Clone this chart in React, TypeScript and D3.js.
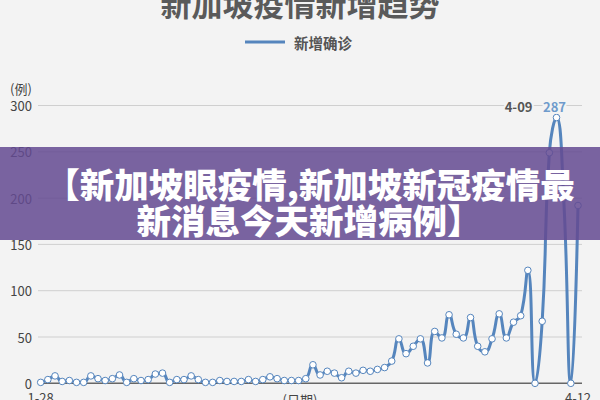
import React from "react";
import * as d3 from "d3";

const title = "新加坡疫情新增趋势";
const seriesName = "新增确诊";
const unitLabel = "(例)";
const axisName = "(日期)";
const bannerLines = ["【新加坡眼疫情,新加坡新冠疫情最", "新消息今天新增病例】"];

const dates: string[] = d3
  .timeDay.range(new Date(2020, 0, 28), new Date(2020, 3, 13))
  .map(d3.timeFormat("%-m-%d"));

const newCases = [
  1, 4, 8, 2, 3, 1, 1, 8, 5, 3, 5, 9, 1, 5, 3, 4, 10, 11, 1, 4, 4, 8, 4, 1, 1, 3,
  2, 2, 2, 4, 2, 4, 7, 5, 3, 3, 3, 5,
  20, 9, 13, 11, 6, 13, 11, 14, 13, 15, 17,
  24, 48, 32, 40, 48, 22, 56, 49, 74, 53, 49, 71, 40, 34, 48, 75, 49, 66, 73, 122,
  0, 67, 249, 287, 200, 0, 192,
];

const yTicks = [0, 50, 100, 150, 200, 250, 300];

const W = 600;
const H = 400;
const BG = "#f3f3f3";
const LINE = "#5585bd";
const FONT = "'Noto Sans CJK SC', 'Noto Sans', sans-serif";

function smoothPath(pts: [number, number][], smooth: number): string {
  const p = d3.path();
  let cpx0 = 0, cpy0 = 0;
  const n = pts.length;
  const clamp = (v: number, a: number, b: number) => Math.max(Math.min(v, Math.max(a, b)), Math.min(a, b));
  for (let i = 0; i < n; i++) {
    const [x, y] = pts[i];
    if (i === 0) { p.moveTo(x, y); cpx0 = x; cpy0 = y; continue; }
    const [prevX, prevY] = pts[i - 1];
    let cpx1 = x, cpy1 = y, nextCpx0 = x, nextCpy0 = y;
    if (i < n - 1) {
      const [nextX, nextY] = pts[i + 1];
      let vx = nextX - prevX, vy = nextY - prevY;
      const lenPrev = Math.hypot(x - prevX, y - prevY);
      const lenNext = Math.hypot(nextX - x, nextY - y);
      const ratio = lenNext / (lenNext + lenPrev);
      nextCpx0 = clamp(x + vx * smooth * ratio, x, nextX);
      nextCpy0 = clamp(y + vy * smooth * ratio, y, nextY);
      vx = nextCpx0 - x; vy = nextCpy0 - y;
      cpx1 = clamp(x - vx * lenPrev / lenNext, prevX, x);
      cpy1 = clamp(y - vy * lenPrev / lenNext, prevY, y);
      vx = x - cpx1; vy = y - cpy1;
      nextCpx0 = x + vx * lenNext / lenPrev;
      nextCpy0 = y + vy * lenNext / lenPrev;
    }
    p.bezierCurveTo(cpx0, cpy0, cpx1, cpy1, x, y);
    cpx0 = nextCpx0; cpy0 = nextCpy0;
  }
  return p.toString();
}

export default function App() {
  const x = d3.scalePoint<string>().domain(dates).range([40.7, 578]);
  const y = d3.scaleLinear().domain([0, 300]).range([383.3, 105.5]);
  const pts: [number, number][] = dates.map((d, i) => [x(d) as number, y(newCases[i])]);
  const path = smoothPath(pts, 0.5);
  const maxIdx = d3.maxIndex(newCases);
  const gx0 = 38, gx1 = 582;

  return (
    <svg width={W} height={H} style={{ position: "absolute", left: 0, top: 0 }} fontFamily={FONT}>
      <rect width={W} height={H} fill={BG} />
      <text x={300} y={16} textAnchor="middle" fontSize={31} fontWeight={700} fill="#5a5a5a">{title}</text>
      <line x1={245} x2={285} y1={42} y2={42} stroke={LINE} strokeWidth={3} />
      <text x={294} y={42} dominantBaseline="central" fontSize={14.5} fontWeight={700} fill="#555">{seriesName}</text>

      <text x={10} y={88} dominantBaseline="central" fontSize={13} fill="#444">{unitLabel}</text>
      {yTicks.map((t) => (
        <g key={t}>
          {t > 0 && <line x1={gx0} x2={gx1} y1={y(t)} y2={y(t)} stroke="#cfcfcf" strokeWidth={1} />}
          <text x={32} y={y(t)} textAnchor="end" dominantBaseline="central" fontSize={13} fill="#444">{t}</text>
        </g>
      ))}
      <line x1={gx0} x2={gx1} y1={y(0)} y2={y(0)} stroke="#666" strokeWidth={1.5} />

      <path d={path} fill="none" stroke={LINE} strokeWidth={3} strokeLinejoin="round" />
      {pts.map(([px, py], i) => (
        <circle key={i} cx={px} cy={py} r={3.3} fill="#fff" stroke={LINE} strokeWidth={1} />
      ))}

      <text x={pts[maxIdx][0] - 24} y={y(300) + 1} textAnchor="end" dominantBaseline="central" fontSize={13} fontWeight={700} fill="#555" stroke={BG} strokeWidth={4} paintOrder="stroke">{dates[maxIdx]}</text>
      <text x={pts[maxIdx][0] - 2} y={y(300) + 1} textAnchor="middle" dominantBaseline="central" fontSize={13} fontWeight={700} fill="#6f9bcc" stroke={BG} strokeWidth={4} paintOrder="stroke">{newCases[maxIdx]}</text>

      <text x={x(dates[0])} y={403} textAnchor="middle" fontSize={13} fill="#444">{dates[0]}</text>
      <text x={300} y={405} textAnchor="middle" fontSize={13} fill="#444">{axisName}</text>
      <text x={x(dates[dates.length - 1])} y={403} textAnchor="middle" fontSize={13} fill="#444">{dates[dates.length - 1]}</text>

      <rect x={0} y={147} width={W} height={93} fill="#644b91" opacity={0.86} />
      <text x={310} y={183} textAnchor="middle" dominantBaseline="central" fontSize={34.5} fontWeight={900} fill="#fff">{bannerLines[0]}</text>
      <text x={309} y={219} textAnchor="middle" dominantBaseline="central" fontSize={34.5} fontWeight={900} fill="#fff">{bannerLines[1]}</text>
    </svg>
  );
}
